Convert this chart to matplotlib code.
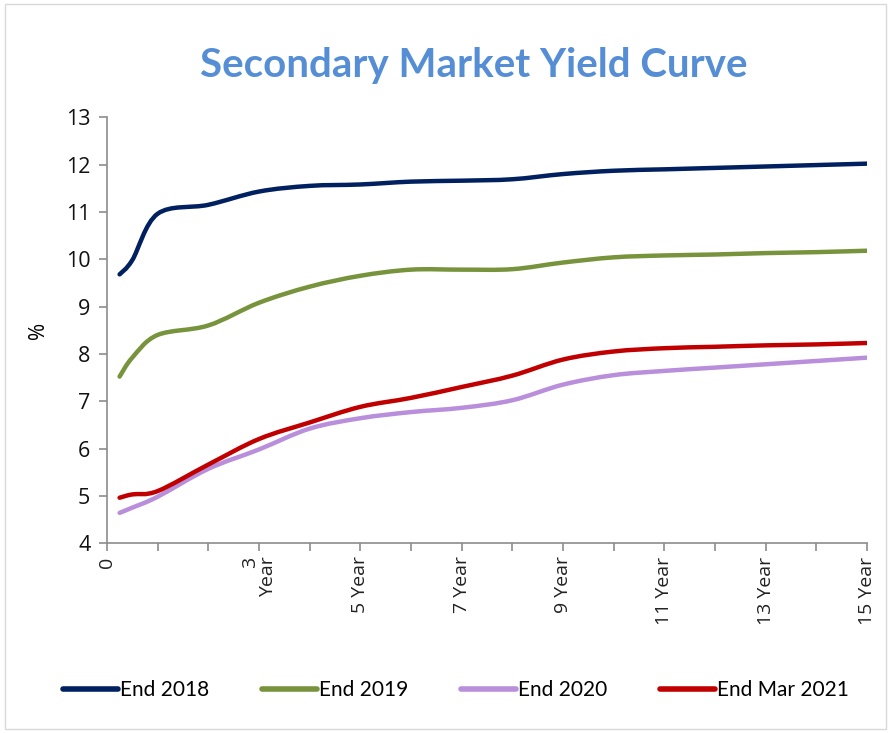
import numpy as np
import matplotlib
matplotlib.use("Agg")
import matplotlib.pyplot as plt
from matplotlib.path import Path
from matplotlib.patches import PathPatch, Rectangle
from matplotlib.lines import Line2D

# maturities in years
tenor = [0.25, 0.5, 1, 2, 3, 4, 5, 6, 7, 8, 9, 10, 11, 12, 13, 14, 15]

end_2018 = [9.68, 9.98, 10.96, 11.15, 11.43, 11.55, 11.58, 11.64, 11.66, 11.69, 11.80, 11.87, 11.90, 11.93, 11.96, 11.99, 12.02]
end_2019 = [7.52, 7.92, 8.40, 8.60, 9.08, 9.42, 9.65, 9.78, 9.78, 9.79, 9.93, 10.04, 10.08, 10.10, 10.13, 10.15, 10.18]
end_2020 = [4.64, 4.75, 4.98, 5.57, 5.98, 6.42, 6.64, 6.77, 6.86, 7.02, 7.35, 7.55, 7.64, 7.71, 7.78, 7.85, 7.92]
end_mar_2021 = [4.96, 5.03, 5.10, 5.66, 6.20, 6.55, 6.88, 7.07, 7.30, 7.54, 7.88, 8.05, 8.12, 8.15, 8.18, 8.20, 8.23]

series_names = ["End 2018", "End 2019", "End 2020", "End Mar 2021"]
series_colors = ["#002060", "#77933C", "#B98EDB", "#C00000"]

xtick_pos = [0, 3, 5, 7, 9, 11, 13, 15]
xtick_labels = ["0", "3\nYear", "5 Year", "7 Year", "9 Year", "11 Year", "13 Year", "15 Year"]


def smoothPath(x, y):
    # Excel-style smoothed line: Catmull-Rom turned into cubic Bezier segments
    pts = np.column_stack([x, y]).astype(float)
    verts = [pts[0]]
    codes = [Path.MOVETO]
    n = len(pts)
    for i in range(n - 1):
        p0 = pts[i - 1] if i > 0 else pts[i]
        p1 = pts[i]
        p2 = pts[i + 1]
        p3 = pts[i + 2] if i + 2 < n else pts[i + 1]
        c1 = p1 + (p2 - p0) / 6
        c2 = p2 - (p3 - p1) / 6
        verts += [c1, c2, p2]
        codes += [Path.CURVE4] * 3
    return Path(verts, codes)


fig = plt.figure(figsize=(8.91, 7.33), dpi=100)
fig.patches.append(Rectangle((0.006, 0.006), 0.988, 0.988, transform=fig.transFigure,
                             fill=False, edgecolor="#D9D9D9", linewidth=1))

ax = fig.add_axes([0.120, 0.259, 0.853, 0.581])

handles = []
for vals, name, col in zip([end_2018, end_2019, end_2020, end_mar_2021], series_names, series_colors):
    patch = PathPatch(smoothPath(tenor, vals), fill=False, edgecolor=col, linewidth=3.2,
                      capstyle="round", joinstyle="round")
    ax.add_patch(patch)
    handles.append(Line2D([], [], color=col, linewidth=4, solid_capstyle="round", label=name))

ax.set_xlim(0, 15)
ax.set_ylim(4, 13)
ax.set_yticks(range(4, 14))
ax.set_xticks(range(0, 16))
ax.set_xticklabels([""] * 16)
for p, lab in zip(xtick_pos, xtick_labels):
    ax.text(p, 3.72, lab, rotation=90, ha="center", va="top", multialignment="right",
            fontsize=14, family="Open Sans", color="#222222", linespacing=1.0)

for s in ["top", "right"]:
    ax.spines[s].set_visible(False)
for s in ["left", "bottom"]:
    ax.spines[s].set_color("#8C8C8C")
    ax.spines[s].set_linewidth(1.2)
ax.tick_params(axis="both", direction="out", length=6, color="#8C8C8C", width=1.2)
ax.tick_params(axis="y", labelsize=15.5, labelcolor="#111111", pad=6)
for t in ax.get_yticklabels():
    t.set_family("Open Sans")

ax.set_ylabel("%", fontsize=15, family="Open Sans", labelpad=12)

fig.text(0.532, 0.91, "Secondary Market Yield Curve", ha="center", va="center",
         fontsize=29, fontweight="bold", family="Lato", color="#558ED5")

fig.legend(handles=handles, loc="center", bbox_to_anchor=(0.512, 0.058), ncol=4, frameon=False,
           prop={"family": "Lato", "size": 15}, handlelength=2.6, handletextpad=0.12,
           columnspacing=2.55)

fig.savefig("out.png", dpi=100)
